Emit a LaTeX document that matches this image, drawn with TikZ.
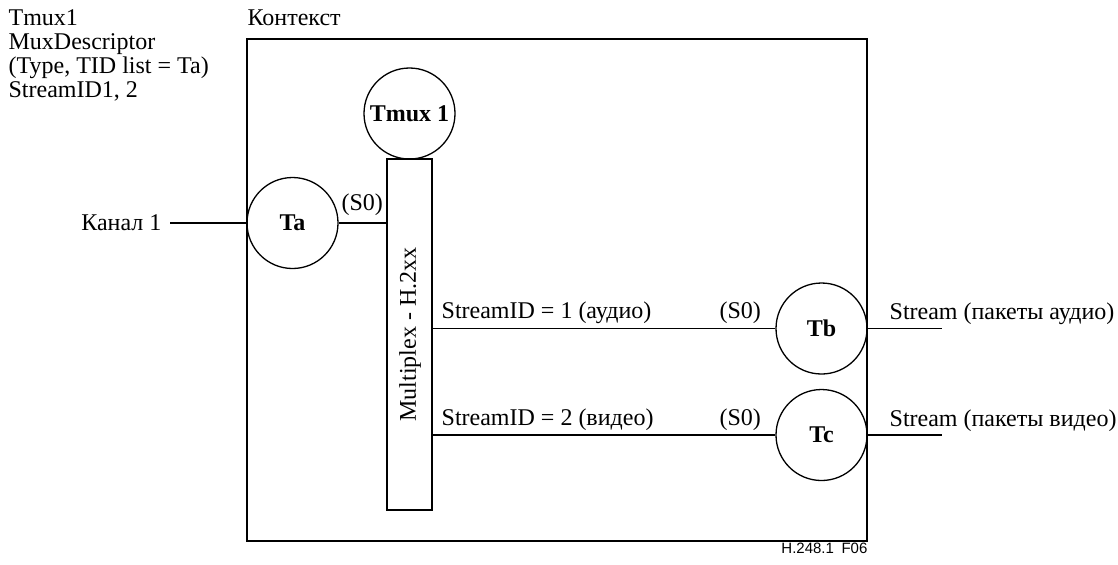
\documentclass[tikz,border=0pt]{standalone}
\usepackage{fontspec}
\setmainfont{Liberation Serif}
\newfontfamily\labelsans{Liberation Sans}
\begin{document}
\begin{tikzpicture}[x=0.5pt,y=-0.5pt,
  line width=0.65pt,
  txt/.style={inner sep=0pt,font=\fontsize{12}{12}\selectfont},
  term/.style={draw,circle,minimum size=45.5pt,inner sep=0pt,
               font=\fontsize{12}{12}\selectfont\bfseries},
  muxbox/.style={draw,minimum width=22.5pt,minimum height=175.5pt,inner sep=0pt}]
\useasboundingbox (0,0) rectangle (1118,564);

% context frame and its title
\draw (247,39) rectangle (867,541);
\node[txt,anchor=base west] (ctx) at (247,25) {Контекст};

% descriptor text for Tmux1
\node[txt,anchor=north west,align=left] (desc) at (8,9)
  {Tmux1\\MuxDescriptor\\(Type, TID list = Ta)\\StreamID1, 2};

% terminations
\node[term] (ta) at (292.5,223) {Ta};
\node[term] (tmux) at (409.5,113.5) {Tmux 1};
\node[term] (tb) at (821.5,328.5) {Tb};
\node[term] (tc) at (821.5,435) {Tc};

% multiplex block
\node[muxbox] (mux) at (409.5,334.5) {};
\node[txt,rotate=90] (muxlbl) at (410,334.5) {Multiplex - H.2xx};

% input channel
\node[txt,anchor=east,inner sep=4pt] (kanal) at (170,223) {Канал 1};
\draw (kanal) -- (ta);

% Ta to multiplex
\coordinate (muxin) at (387,223);
\draw (ta) -- (muxin);
\node[txt,anchor=base west] (s0a) at (341,210) {(S0)};

% multiplex outputs
\coordinate (muxout1) at (432,328.5);
\coordinate (muxout2) at (432,435);
\draw (muxout1) -- (tb);
\draw (muxout2) -- (tc);
\node[txt,anchor=base west] (sid1) at (441,318) {StreamID = 1 (аудио)};
\node[txt,anchor=base west] (sid2) at (441,425) {StreamID = 2 (видео)};
\node[txt,anchor=base west] (s0b) at (719,318) {(S0)};
\node[txt,anchor=base west] (s0c) at (719,425) {(S0)};

% outgoing streams
\coordinate (outb) at (942,328.5);
\coordinate (outc) at (942,435);
\draw (tb) -- (outb);
\draw (tc) -- (outc);
\node[txt,anchor=base west] (strb) at (889,319) {Stream (пакеты аудио)};
\node[txt,anchor=base west] (strc) at (889,426) {Stream (пакеты видео)};

% figure reference
\node[inner sep=0pt,anchor=base east,font=\labelsans\fontsize{7.5}{8}\selectfont] (fig) at (868,553) {H.248.1\enspace F06};
\end{tikzpicture}
\end{document}
